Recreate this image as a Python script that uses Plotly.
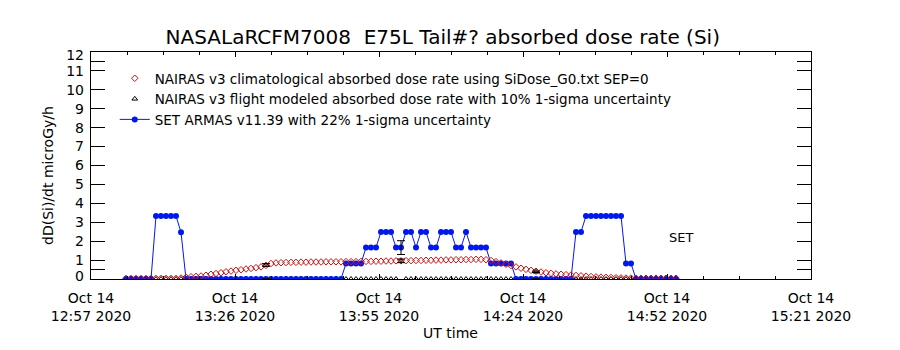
import pandas as pd
import plotly.graph_objects as go

# ---------------- data ----------------
DATA_START = "2020-10-14 13:04:40"   # first sample, 1-minute cadence
N_POINTS = 111

set_armas = (
    [0, 0, 0, 0, 0, 0] +
    [3.33, 3.33, 3.33, 3.33, 3.33] +
    [2.47] +
    [0] * 32 +
    [0.82, 0.82, 0.82, 0.82] +
    [1.66, 1.66, 1.66] +
    [2.49, 2.49, 2.49] +
    [1.66, 1.66] +
    [2.49, 2.49] +
    [1.66] +
    [2.49, 2.49] +
    [1.66, 1.66] +
    [2.49, 2.49, 2.49] +
    [1.66, 1.66] +
    [2.49] +
    [1.66, 1.66, 1.66, 1.66] +
    [0.82, 0.82, 0.82, 0.82, 0.82] +
    [0] * 12 +
    [2.49, 2.49] +
    [3.33, 3.33, 3.33, 3.33, 3.33, 3.33, 3.33, 3.33] +
    [0.82, 0.82] +
    [0] * 9
)

nairas_clim = (
    [0.03] * 11 +
    [0.05, 0.09, 0.12, 0.14, 0.16, 0.20, 0.25, 0.29, 0.33, 0.38, 0.42, 0.46,
     0.49, 0.53, 0.56, 0.60, 0.64, 0.72, 0.82, 0.85, 0.86, 0.87, 0.88, 0.88, 0.89] +
    [0.89, 0.90, 0.90, 0.90, 0.91, 0.91, 0.91, 0.91, 0.92, 0.92, 0.92, 0.93,
     0.93, 0.93, 0.94, 0.94, 0.95, 0.95, 0.96] +
    [0.96] +
    [0.97, 0.97, 0.98, 0.98, 0.99, 0.99, 1.00, 1.00, 1.01, 1.01, 1.02, 1.02,
     1.03, 1.03, 1.04, 1.04] +
    [1.02, 0.98, 0.92, 0.85, 0.78, 0.71, 0.64, 0.57, 0.51, 0.46, 0.41, 0.37,
     0.33, 0.30, 0.27, 0.25, 0.23, 0.21, 0.19, 0.17, 0.15, 0.13, 0.11, 0.10,
     0.09, 0.08, 0.07, 0.06, 0.05, 0.05] +
    [0.04] * 9
)

nairas_flight = [0] * 28 + [0.74] + [0] * 26 + [0.96] + [0] * 26 + [0.38] + [0] * 28

err_idx = [28, 55, 82]
SET_SIGMA = 0.22
NAIRAS_SIGMA = 0.10

AXIS_START = "2020-10-14 12:57:40"
TICK_STEP_MIN = 28.8
x_ticktext = ["Oct 14<br>12:57 2020", "Oct 14<br>13:26 2020", "Oct 14<br>13:55 2020",
              "Oct 14<br>14:24 2020", "Oct 14<br>14:52 2020", "Oct 14<br>15:21 2020"]
# tick marks and their labels (labels of the end ticks sit slightly inward)
y_tick_marks = [0.5, 1, 2, 3, 4, 5, 6, 7, 8, 9, 10, 11, 11.5]
y_label_pos = [0.18, 1, 2, 3, 4, 5, 6, 7, 8, 9, 10, 11, 11.82]
y_ticktext = ["0", "1", "2", "3", "4", "5", "6", "7", "8", "9", "10", "11", "12"]

legend_names = [
    "NAIRAS v3 climatological absorbed dose rate using SiDose_G0.txt SEP=0",
    "NAIRAS v3 flight modeled absorbed dose rate with 10% 1-sigma uncertainty",
    "SET ARMAS v11.39 with 22% 1-sigma uncertainty",
]

# ---------------- build ----------------
times = pd.date_range(DATA_START, periods=N_POINTS, freq="1min")
t0 = pd.Timestamp(AXIS_START)
x_tickvals = [t0 + pd.Timedelta(minutes=TICK_STEP_MIN * k) for k in range(len(x_ticktext))]
x_range = [x_tickvals[0], x_tickvals[-1]]

FONT = "DejaVu Sans"
RED = "#cc1010"
BLUE = "#0018f0"

# plot-area geometry in pixels (for placing free text)
L, R, T, B = 91, 89, 52, 71
PW, PH = 900 - L - R, 350 - T - B


def px(xp):
    return (xp - L) / PW


def py(yp):
    return (350 - B - yp) / PH


fig = go.Figure()

fig.add_trace(go.Scatter(
    x=times, y=nairas_flight, mode="markers", name=legend_names[1],
    marker=dict(symbol="triangle-up-open", size=5, color="black", line=dict(width=1)),
    legendrank=2, legendgroup="b",
))
fig.add_trace(go.Scatter(
    x=times, y=set_armas, mode="lines+markers", name=legend_names[2],
    line=dict(color=BLUE, width=1),
    marker=dict(symbol="circle", size=6, color=BLUE),
    legendrank=3, legendgroup="c",
))
fig.add_trace(go.Scatter(
    x=times, y=nairas_clim, mode="markers", name=legend_names[0],
    marker=dict(symbol="diamond-open", size=5, color=RED, line=dict(width=1)),
    legendrank=1, legendgroup="a",
))
# error bars
fig.add_trace(go.Scatter(
    x=[times[i] for i in err_idx], y=[set_armas[i] for i in err_idx], mode="markers",
    marker=dict(size=1, opacity=0), showlegend=False, hoverinfo="skip",
    error_y=dict(type="data", array=[set_armas[i] * SET_SIGMA for i in err_idx],
                 color="black", thickness=1, width=4),
))
fig.add_trace(go.Scatter(
    x=[times[i] for i in err_idx], y=[nairas_flight[i] for i in err_idx], mode="markers",
    marker=dict(size=1, opacity=0), showlegend=False, hoverinfo="skip",
    error_y=dict(type="data", array=[nairas_flight[i] * NAIRAS_SIGMA for i in err_idx],
                 color="black", thickness=1, width=4),
))
# empty trace that anchors the label-only overlay axis
fig.add_trace(go.Scatter(x=[], y=[], yaxis="y2", showlegend=False, hoverinfo="skip"))

fig.update_layout(
    width=900, height=350,
    margin=dict(l=L, r=R, t=T, b=B),
    paper_bgcolor="white", plot_bgcolor="white",
    font=dict(family=FONT, color="black", size=14),
    title=dict(text="NASALaRCFM7008  E75L Tail#? absorbed dose rate (Si)",
               x=0.492, xanchor="center", y=1 - 37 / 350, yanchor="middle",
               font=dict(size=20, family=FONT)),
    showlegend=True,
    legend=dict(x=0.033, xanchor="left", y=py(63), yanchor="top",
                bgcolor="rgba(0,0,0,0)", borderwidth=0,
                font=dict(size=13.5, family=FONT), itemwidth=30,
                traceorder="grouped", tracegroupgap=0),
    xaxis=dict(type="date", range=x_range, tickmode="array",
               tickvals=x_tickvals, ticktext=x_ticktext,
               ticks="inside", ticklen=5, tickcolor="black",
               minor=dict(ticks="inside", ticklen=3, dtick=432000, tick0=x_tickvals[0],
                          tickcolor="black", showgrid=False),
               showline=True, linecolor="black", linewidth=1, mirror="ticks",
               showgrid=False, zeroline=False, tickfont=dict(size=14),
               ticklabelstandoff=6),
    yaxis=dict(range=[0, 12], tickmode="array", tickvals=y_tick_marks,
               showticklabels=False,
               ticks="inside", ticklen=14, tickcolor="black",
               showline=True, linecolor="black", linewidth=1, mirror="ticks",
               showgrid=False, zeroline=False),
    yaxis2=dict(range=[0, 12], overlaying="y", side="left", tickmode="array",
                tickvals=y_label_pos, ticktext=y_ticktext, ticks="",
                showline=False, showgrid=False, zeroline=False,
                tickfont=dict(size=14), ticklabelstandoff=6),
    annotations=[
        dict(text="dD(Si)/dt microGy/h", x=px(48), y=py(176), xref="paper", yref="paper",
             showarrow=False, textangle=-90, font=dict(size=14), xanchor="center",
             yanchor="middle"),
        dict(text="UT time", x=px(450), y=py(333), xref="paper", yref="paper",
             showarrow=False, font=dict(size=14), xanchor="center", yanchor="middle"),
        dict(text="SET", x=px(681), y=py(237), xref="paper", yref="paper",
             showarrow=False, font=dict(size=13), xanchor="center", yanchor="middle"),
    ],
)

fig.write_html("out.html")
